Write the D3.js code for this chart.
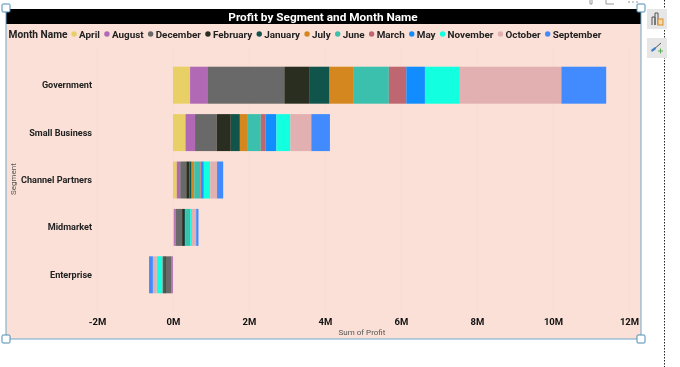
<!DOCTYPE html>
<html>
<head>
<meta charset="utf-8">
<script src="https://cdn.jsdelivr.net/npm/d3@7"></script>
<style>
  html, body { margin: 0; padding: 0; background: #fff; }
  svg { display: block; filter: blur(0.35px); }
  text { font-family: Roboto, "Open Sans", sans-serif; }
</style>
</head>
<body>
<svg id="container"></svg>
<script>
/* DATA */
const segments = ["Government", "Small Business", "Channel Partners", "Midmarket", "Enterprise"];
const months = ["April", "August", "December", "February", "January", "July", "June", "March", "May", "November", "October", "September"];
const monthColors = ["#E8CF66", "#B168B5", "#696969", "#2A2E20", "#11544C", "#D4861F", "#3CC0AE", "#BF6770", "#118DFF", "#12FFE0", "#E3B0B2", "#428BFF"];

// profit in millions, one list per segment, same order as months
const government = [0.45, 0.47, 2.01, 0.67, 0.52, 0.62, 0.94, 0.46, 0.49, 0.92, 2.67, 1.18];
const smallBusiness = [0.33, 0.25, 0.57, 0.37, 0.24, 0.21, 0.34, 0.13, 0.28, 0.37, 0.55, 0.49];
const channelPartners = [0.10, 0.09, 0.16, 0.08, 0.06, 0.07, 0.16, 0.045, 0.045, 0.17, 0.18, 0.16];
const midmarket = [0.03, 0.04, 0.17, 0.05, 0.03, 0.02, 0.08, 0.015, 0.015, 0.05, 0.11, 0.06];
const enterprise = [-0.005, -0.035, -0.15, -0.04, -0.03, -0.005, -0.02, -0.005, -0.01, -0.13, -0.10, -0.10];
const segmentValues = [government, smallBusiness, channelPartners, midmarket, enterprise];

const xTicks = [-2, 0, 2, 4, 6, 8, 10, 12];

/* CONSTANTS */
const width = 680,
  height = 367,
  frame = { left: 6, top: 10, right: 641, bottom: 339 };

const svg = d3.select("#container")
  .attr("width", width)
  .attr("height", height);

/* SCALES */
const xScale = d3.scaleLinear()
  .domain([-2, 12])
  .range([97, 629]);

const yScale = d3.scaleBand()
  .domain(segments)
  .range([61.5, 298.5])
  .paddingInner(0.22)
  .paddingOuter(0.11);

const colorScale = d3.scaleOrdinal()
  .domain(months)
  .range(monthColors);

/* BACKGROUND */
svg.append("rect")
  .attr("x", frame.left)
  .attr("y", frame.top)
  .attr("width", frame.right - frame.left)
  .attr("height", frame.bottom - frame.top)
  .attr("fill", "#FAE0D6");

// gridlines are barely visible in the reference
svg.append("g")
  .selectAll("line")
  .data(xTicks)
  .join("line")
  .attr("x1", d => xScale(d))
  .attr("x2", d => xScale(d))
  .attr("y1", 46)
  .attr("y2", 312)
  .attr("stroke", "#F7DCD1")
  .attr("stroke-width", 1);

/* TITLE */
svg.append("rect")
  .attr("x", frame.left)
  .attr("y", 9)
  .attr("width", frame.right - frame.left)
  .attr("height", 15)
  .attr("fill", "#000");

svg.append("text")
  .attr("x", 323)
  .attr("y", 20.5)
  .attr("text-anchor", "middle")
  .attr("fill", "#fff")
  .attr("font-size", 11.8)
  .attr("font-weight", 700)
  .text("Profit by Segment and Month Name");

/* LEGEND */
const legend = svg.append("g");
const legendY = 37.5;

const legendTitle = legend.append("text")
  .attr("x", 8.5)
  .attr("y", legendY)
  .attr("fill", "#222")
  .attr("font-size", 10.2)
  .attr("font-weight", 700)
  .text("Month Name");

let legendX = 8.5 + legendTitle.node().getComputedTextLength() + 4;
months.forEach(m => {
  legend.append("circle")
    .attr("cx", legendX + 2.5)
    .attr("cy", legendY - 3.5)
    .attr("r", 2.7)
    .attr("fill", colorScale(m));
  const t = legend.append("text")
    .attr("x", legendX + 7.5)
    .attr("y", legendY)
    .attr("fill", "#222")
    .attr("font-size", 9.9)
    .attr("font-weight", 700)
    .text(m);
  legendX += 7.5 + t.node().getComputedTextLength() + 4.5;
});

/* BARS */
const stack = d3.stack()
  .keys(months.map((m, i) => i))
  .value((row, i) => row[i])
  .offset(d3.stackOffsetDiverging);

const series = stack(segmentValues);

svg.append("g")
  .selectAll("g")
  .data(series)
  .join("g")
  .attr("fill", d => monthColors[d.key])
  .selectAll("rect")
  .data(d => d)
  .join("rect")
  .attr("x", d => xScale(Math.min(d[0], d[1])))
  .attr("width", d => Math.abs(xScale(d[1]) - xScale(d[0])))
  .attr("y", (d, i) => yScale(segments[i]))
  .attr("height", yScale.bandwidth());

/* AXES */
const xAxis = d3.axisBottom(xScale)
  .tickValues(xTicks)
  .tickFormat(d => d + "M")
  .tickSize(0);

const xAxisG = svg.append("g")
  .attr("transform", "translate(0, 315)")
  .call(xAxis);
xAxisG.select(".domain").remove();
xAxisG.selectAll("text")
  .attr("fill", "#111")
  .attr("font-size", 9.5)
  .attr("font-weight", 700);

const yAxis = d3.axisLeft(yScale)
  .tickSize(0)
  .tickPadding(0);

const yAxisG = svg.append("g")
  .attr("transform", "translate(92, 0)")
  .call(yAxis);
yAxisG.select(".domain").remove();
yAxisG.selectAll("text")
  .attr("fill", "#222")
  .attr("font-size", 9.1)
  .attr("font-weight", 700);

svg.append("text")
  .attr("x", 362)
  .attr("y", 335)
  .attr("text-anchor", "middle")
  .attr("fill", "#555")
  .attr("font-size", 8)
  .text("Sum of Profit");

svg.append("text")
  .attr("transform", "translate(16, 179) rotate(-90)")
  .attr("text-anchor", "middle")
  .attr("fill", "#555")
  .attr("font-size", 8)
  .text("Segment");

/* EDITOR FRAME */
svg.append("path")
  .attr("d", `M${frame.left},9V${frame.bottom}H${frame.right}V9`)
  .attr("fill", "none")
  .attr("stroke", "#6FA8CC")
  .attr("stroke-width", 1);

const handles = [[6, 8], [641, 8], [6, 339], [641, 339]];
svg.append("g")
  .selectAll("rect")
  .data(handles)
  .join("rect")
  .attr("x", d => d[0] - 4)
  .attr("y", d => d[1] - 4)
  .attr("width", 8)
  .attr("height", 8)
  .attr("rx", 1)
  .attr("fill", "#fff")
  .attr("stroke", "#4A8DB5");

svg.append("line")
  .attr("x1", 664.5)
  .attr("x2", 664.5)
  .attr("y1", 0)
  .attr("y2", 367)
  .attr("stroke", "#222")
  .attr("stroke-dasharray", "1.5 1.5");

// toolbar bits cut off at the top edge
svg.append("path")
  .attr("d", "M590,0V4H592V0M606,0V4H614M628,2H630M632,2H634M636,2H638")
  .attr("fill", "none")
  .attr("stroke", "#999");

// side buttons
const buttons = [9, 38];
svg.append("g")
  .selectAll("rect")
  .data(buttons)
  .join("rect")
  .attr("x", 647)
  .attr("y", d => d)
  .attr("width", 20)
  .attr("height", 20)
  .attr("fill", "#E6E6E6");

svg.append("path")
  .attr("d", "M652,25V17H655V25M655,25V13H658V25")
  .attr("fill", "none")
  .attr("stroke", "#555");
svg.append("rect")
  .attr("x", 658)
  .attr("y", 19)
  .attr("width", 5)
  .attr("height", 6)
  .attr("fill", "#F6D9A8")
  .attr("stroke", "#D98E2B");
svg.append("path")
  .attr("d", "M653,50L661,43")
  .attr("stroke", "#555")
  .attr("stroke-width", 1);
svg.append("path")
  .attr("d", "M651,50L655,47L656,49L652,52Z")
  .attr("fill", "#3F7FC4");
svg.append("path")
  .attr("d", "M658,51H663M660.5,48.5V53.5")
  .attr("stroke", "#5AA85A");
</script>
</body>
</html>
